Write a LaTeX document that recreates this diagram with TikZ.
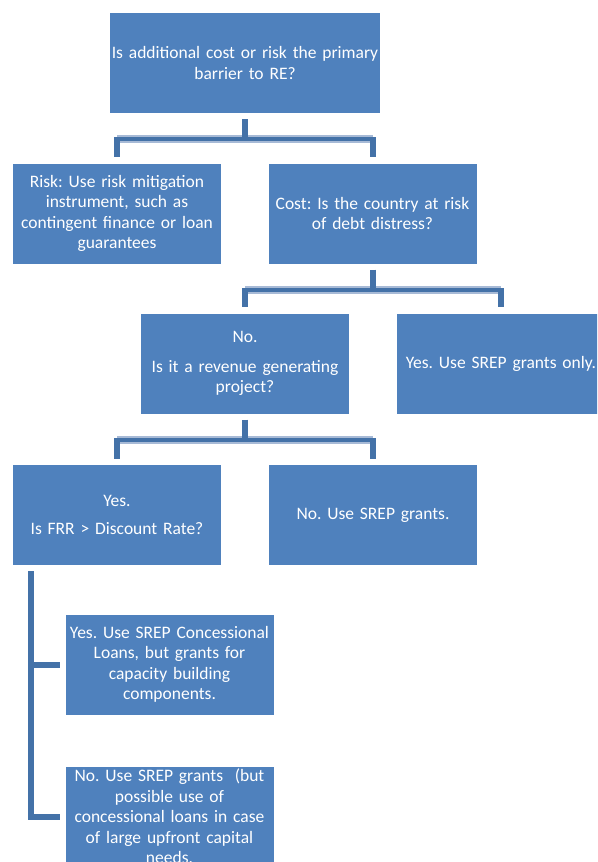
\documentclass[tikz,border=0pt]{standalone}
\usepackage{fontspec}
\setmainfont{Carlito}
\usetikzlibrary{calc}
\definecolor{box_blue}{RGB}{79, 129, 189}
\definecolor{link_dark}{RGB}{68, 114, 168}
\definecolor{link_light}{RGB}{167, 186, 214}
\frenchspacing

\begin{document}
\begin{tikzpicture}[x=1pt, y=-1pt,
    decision/.style={rectangle, fill=box_blue, text=white, inner sep=0pt,
      text width=208pt, minimum height=100pt, align=center,
      font=\fontsize{17.5}{20.5}\selectfont},
    stem/.style={draw=link_dark, line width=6pt, line join=miter},
    busband/.style={draw=link_light, line width=8pt},
    busline/.style={draw=link_dark, line width=4pt}]
  \useasboundingbox (0,0) rectangle (597,862);
  \clip (0,0) rectangle (597,862);

  % boxes
  \node[decision, text width=270pt] (top) at (245, 63)
    {Is additional cost or risk the primary\\barrier to RE?};
  \node[decision] (risk) at (117, 213.5)
    {Risk: Use risk mitigation\\instrument, such as\\contingent finance or loan\\guarantees};
  \node[decision] (cost) at (372.5, 213.5)
    {Cost: Is the country at risk\\of debt distress?};
  \node[decision] (revenue) at (245, 363.5)
    {No.\\[9pt]Is it a revenue generating\\project?};
  \node[decision] (grantsonly) at (501, 363.5)
    {Yes. Use SREP grants only.};
  \node[decision] (frr) at (117, 515)
    {Yes.\\[8pt]Is FRR > Discount Rate?};
  \node[decision] (grants) at (373, 515)
    {No. Use SREP grants.};
  \node[decision] (concessional) at (169.5, 664.5)
    {Yes. Use SREP Concessional\\Loans, but grants for\\capacity building\\components.};
  \node[decision] (nogrants) at (169.5, 816.5)
    {No. Use SREP grants \ (but\\possible use of\\concessional loans in case\\of large upfront capital\\needs.};

  % first split
  \coordinate (bus1) at (245, 139);
  \draw[busband] (bus1 -| risk.north) -- (bus1 -| cost.north);
  \draw[busline] (bus1 -| risk.north) -- (bus1 -| cost.north);
  \draw[stem] ([yshift=-6pt]top.south) -- (bus1);
  \draw[stem] ([yshift=2pt]bus1 -| risk.north) -- ([yshift=6pt]risk.north);
  \draw[stem] ([yshift=2pt]bus1 -| cost.north) -- ([yshift=6pt]cost.north);

  % second split
  \coordinate (bus2) at (372.5, 290);
  \draw[busband] (bus2 -| revenue.north) -- (bus2 -| grantsonly.north);
  \draw[busline] (bus2 -| revenue.north) -- (bus2 -| grantsonly.north);
  \draw[stem] ([yshift=-6pt]cost.south) -- (bus2);
  \draw[stem] ([yshift=2pt]bus2 -| revenue.north) -- ([yshift=6pt]revenue.north);
  \draw[stem] ([yshift=2pt]bus2 -| grantsonly.north) -- ([yshift=6pt]grantsonly.north);

  % third split
  \coordinate (bus3) at (245, 440);
  \draw[busband] (bus3 -| frr.north) -- (bus3 -| grants.north);
  \draw[busline] (bus3 -| frr.north) -- (bus3 -| grants.north);
  \draw[stem] ([yshift=-6pt]revenue.south) -- (bus3);
  \draw[stem] ([yshift=2pt]bus3 -| frr.north) -- ([yshift=6pt]frr.north);
  \draw[stem] ([yshift=2pt]bus3 -| grants.north) -- ([yshift=6pt]grants.north);

  % last split
  \coordinate (trunk) at ([xshift=18pt, yshift=-6pt]frr.south west);
  \draw[stem] (trunk) |- ([xshift=-5pt]concessional.west);
  \draw[stem] (trunk) |- ([xshift=-5pt]nogrants.west);
\end{tikzpicture}
\end{document}
